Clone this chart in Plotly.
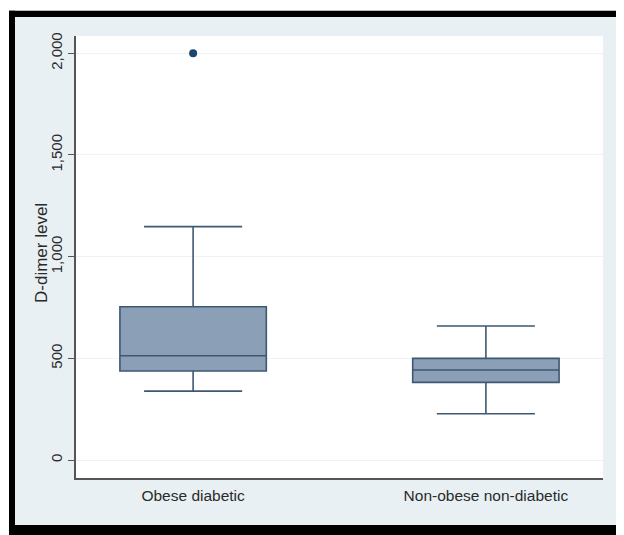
import plotly.graph_objects as go

# Data
categories = ["Obese diabetic", "Non-obese non-diabetic"]
q1_vals = [438, 382]
median_vals = [513, 443]
q3_vals = [754, 500]
lower_whisker = [339, 228]
upper_whisker = [1148, 659]
outlier_x = ["Obese diabetic"]
outlier_y = [2000]
y_tick_vals = [0, 500, 1000, 1500, 2000]
y_tick_text = ["0", "500", "1,000", "1,500", "2,000"]
y_title = "D-dimer level"

# page has an 8px body margin, so the figure is shifted by OFF
OFF = 8
W_PX, H_PX = 624 - OFF, 535 - OFF
# plot area in reference coordinates: x 76..603, y 36..478
L, R = 76 - OFF, W_PX - (603 - OFF)
T, B = 36 - OFF, H_PX - (478 - OFF)
PW, PH = W_PX - L - R, H_PX - T - B

def px(x):  # reference pixel x -> paper
    return (x - OFF - L) / PW

def py(y):  # reference pixel y -> paper
    return (H_PX - B - (y - OFF)) / PH

BG = "#e9f0f3"
fig = go.Figure()

fig.add_trace(go.Box(
    x=categories,
    q1=q1_vals, median=median_vals, q3=q3_vals,
    lowerfence=lower_whisker, upperfence=upper_whisker,
    boxpoints=False,
    width=0.5,
    whiskerwidth=0.67,
    fillcolor="rgb(139,160,183)",
    line=dict(color="rgb(62,88,114)", width=1.6),
    showlegend=False,
))

fig.add_trace(go.Scatter(
    x=outlier_x, y=outlier_y, mode="markers",
    marker=dict(color="#1a476f", size=8),
    showlegend=False,
))

shapes = []
def rect(x0, y0, x1, y1, color):
    shapes.append(dict(type="rect", xref="paper", yref="paper",
                       x0=px(x0), x1=px(x1), y0=py(y1), y1=py(y0),
                       fillcolor=color, line=dict(width=0), layer="below"))

rect(0, 0, 9, 540, "white")
rect(0, 0, 630, 10.7, "white")
rect(9, 10.7, 630, 17, "black")
rect(9, 10.7, 15, 540, "black")
rect(617, 10.7, 630, 540, "black")
rect(9, 525, 630, 540, "black")

fig.update_layout(
    width=W_PX, height=H_PX,
    margin=dict(l=L, r=R, t=T, b=B, pad=0),
    paper_bgcolor=BG, plot_bgcolor="white",
    font=dict(family="Liberation Sans, Arial, sans-serif", color="#2a2a2a", size=15),
    shapes=shapes,
    showlegend=False,
    annotations=[dict(
        text=y_title, textangle=-90, xref="paper", yref="paper",
        x=px(41), y=py(253), xanchor="center", yanchor="middle",
        showarrow=False, font=dict(size=17, color="#2a2a2a"),
    )],
)

fig.update_xaxes(
    type="category",
    range=[-0.4, 1.4],
    showgrid=False, zeroline=False,
    showline=True, linecolor="#555555", linewidth=1.5,
    ticks="", tickfont=dict(size=15.5),
    ticklabelstandoff=3,
    fixedrange=True,
)

fig.update_yaxes(
    range=[-88, 2085],
    tickvals=y_tick_vals, ticktext=y_tick_text,
    tickangle=-90,
    ticks="outside", ticklen=6, tickcolor="#555555", tickwidth=1,
    showgrid=True, gridcolor="#eef3f5", gridwidth=1,
    zeroline=False,
    showline=True, linecolor="#555555", linewidth=1.5,
    tickfont=dict(size=15),
    fixedrange=True,
)

fig.write_html("out.html")
